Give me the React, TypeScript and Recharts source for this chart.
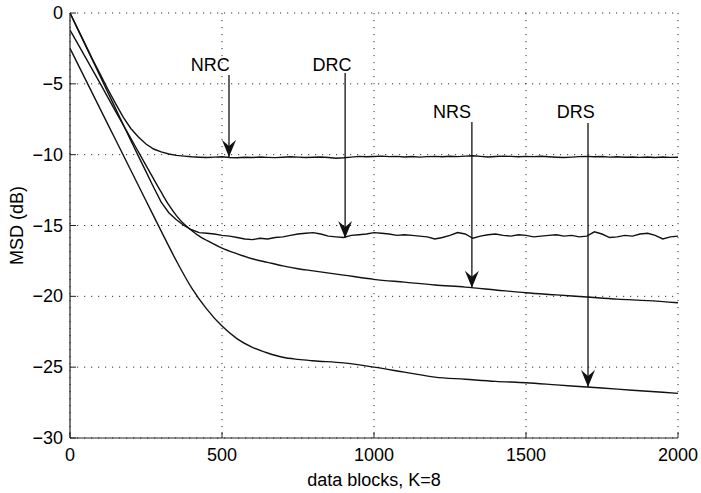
import React from 'react';
import { LineChart, Line, XAxis, YAxis, CartesianGrid, ReferenceLine, ReferenceDot, Label } from 'recharts';

const xTicks = [0, 500, 1000, 1500, 2000];
const yTicks = [-30, -25, -20, -15, -10, -5, 0];

const fineBlocks = [
  0, 25, 50, 75, 100, 125, 150, 175, 200, 225, 250, 275, 300, 325, 350, 375, 400,
  425, 450, 475, 500, 525, 550, 575, 600, 625, 650, 675, 700, 725, 750, 775, 800,
  825, 850, 875, 900, 925, 950, 975, 1000, 1025, 1050, 1075, 1100, 1125, 1150, 1175, 1200,
  1225, 1250, 1275, 1300, 1325, 1350, 1375, 1400, 1425, 1450, 1475, 1500, 1525, 1550, 1575, 1600,
  1625, 1650, 1675, 1700, 1725, 1750, 1775, 1800, 1825, 1850, 1875, 1900, 1925, 1950, 1975, 2000,
];

const nrcMsd = [
  0, -1.1, -2.2, -3.3, -4.35, -5.4, -6.4, -7.35, -8.15, -8.75, -9.25, -9.6, -9.8, -9.95, -10.05, -10.1, -10.15,
  -10.18, -10.2, -10.17, -10.15, -10.2, -10.22, -10.18, -10.2, -10.16, -10.19, -10.21, -10.18, -10.15, -10.17, -10.2, -10.18,
  -10.16, -10.2, -10.25, -10.22, -10.17, -10.12, -10.15, -10.13, -10.1, -10.14, -10.12, -10.16, -10.13, -10.17, -10.14, -10.12,
  -10.15, -10.11, -10.14, -10.1, -10.08, -10.12, -10.16, -10.13, -10.1, -10.12, -10.15, -10.12, -10.14, -10.11, -10.15, -10.18,
  -10.2, -10.17, -10.14, -10.12, -10.15, -10.13, -10.17, -10.15, -10.18, -10.16, -10.19, -10.17, -10.2, -10.17, -10.19, -10.18,
];

const drcMsd = [
  0, -1.12, -2.25, -3.37, -4.5, -5.62, -6.75, -7.87, -9.0, -10.1, -11.2, -12.3, -13.35, -14.1, -14.6, -15.0, -15.3,
  -15.5, -15.55, -15.6, -15.7, -15.75, -15.85, -15.95, -16.0, -15.9, -15.95, -15.85, -15.8, -15.7, -15.6, -15.55, -15.5,
  -15.6, -15.75, -15.8, -15.85, -15.7, -15.65, -15.6, -15.5, -15.55, -15.6, -15.7, -15.65, -15.7, -15.75, -15.8, -15.95,
  -15.85, -15.7, -15.5, -15.6, -15.9, -15.75, -15.65, -15.6, -15.7, -15.75, -15.65, -15.7, -15.8, -15.75, -15.7, -15.65,
  -15.75, -15.7, -15.8, -15.75, -15.45, -15.6, -15.85, -15.8, -15.7, -15.75, -15.6, -15.55, -15.7, -15.95, -15.8, -15.75,
];

const nrsBlocks = [
  0, 50, 100, 150, 200, 250, 300, 325, 350, 375, 400, 425, 450, 500, 550, 600, 650, 700, 750, 800,
  900, 1000, 1100, 1200, 1300, 1400, 1500, 1600, 1700, 1800, 1900, 2000,
];
const nrsMsd = [
  -1.2, -3.1, -5.0, -6.95, -8.85, -10.75, -12.65, -13.55, -14.3, -14.9, -15.35, -15.75, -16.05, -16.6, -17.0, -17.35, -17.6, -17.85, -18.05, -18.2,
  -18.5, -18.8, -19.0, -19.2, -19.35, -19.55, -19.75, -19.9, -20.05, -20.2, -20.3, -20.45,
];

const drsBlocks = [
  0, 50, 100, 150, 200, 250, 300, 350, 400, 450, 500, 550, 600, 650, 700, 750, 800,
  900, 1000, 1100, 1200, 1300, 1400, 1500, 1600, 1700, 1800, 1900, 2000,
];
const drsMsd = [
  -2.5, -4.65, -6.8, -8.95, -11.1, -13.25, -15.4, -17.5, -19.4, -20.9, -22.1, -23.0, -23.6, -24.0, -24.3, -24.45, -24.55,
  -24.7, -25.0, -25.35, -25.7, -25.85, -26.0, -26.1, -26.25, -26.4, -26.55, -26.7, -26.85,
];

const annLabels = ['NRC', 'DRC', 'NRS', 'DRS'];
const annTextBlock = [461, 862, 1257, 1664];
const annTextMsd = [-3.67, -3.67, -6.99, -6.99];
const annArrowBlock = [523, 905, 1322, 1704];
const annArrowTop = [-4.38, -4.23, -7.69, -7.76];
const annArrowTip = [-10.16, -15.88, -19.4, -26.4];

const nrcData = fineBlocks.map((b, i) => ({ block: b, msd: nrcMsd[i] }));
const drcData = fineBlocks.map((b, i) => ({ block: b, msd: drcMsd[i] }));
const nrsData = nrsBlocks.map((b, i) => ({ block: b, msd: nrsMsd[i] }));
const drsData = drsBlocks.map((b, i) => ({ block: b, msd: drsMsd[i] }));

const FONT = '"Liberation Sans", Arial, Helvetica, sans-serif';
const INK = '#111';
const FRAME = '#222';

const fmt = (v: number) => (v < 0 ? '\u2212' + Math.abs(v) : String(v));

const XTick = (p: any) => (
  <g>
    <line x1={p.x} y1={p.y} x2={p.x} y2={p.y - 6} stroke={FRAME} strokeWidth={1} />
    <text x={p.x} y={p.y + 17} textAnchor="middle" dominantBaseline="central" fontSize={18} fontFamily={FONT} fill="#000">
      {fmt(p.payload.value)}
    </text>
  </g>
);
const YTick = (p: any) => (
  <g>
    <line x1={p.x} y1={p.y} x2={p.x + 6} y2={p.y} stroke={FRAME} strokeWidth={1} />
    <text x={p.x - 7} y={p.y} textAnchor="end" dominantBaseline="central" fontSize={18} fontFamily={FONT} fill="#000">
      {fmt(p.payload.value)}
    </text>
  </g>
);
const TopTick = (p: any) => <line x1={p.x} y1={p.y} x2={p.x} y2={p.y + 6} stroke={FRAME} strokeWidth={1} />;
const RightTick = (p: any) => <line x1={p.x} y1={p.y} x2={p.x - 6} y2={p.y} stroke={FRAME} strokeWidth={1} />;

const XLabel = (p: any) => {
  const vb = p.viewBox;
  return (
    <text x={vb.x + vb.width / 2} y={vb.y + 42} textAnchor="middle" dominantBaseline="central" fontSize={18} fontFamily={FONT} fill="#000">
      data blocks, K=8
    </text>
  );
};
const YLabel = (p: any) => {
  const vb = p.viewBox;
  const cx = vb.x + 17;
  const cy = vb.y + vb.height / 2;
  return (
    <text x={cx} y={cy} transform={`rotate(-90, ${cx}, ${cy})`} textAnchor="middle" dominantBaseline="central" fontSize={18} fontFamily={FONT} fill="#000">
      MSD (dB)
    </text>
  );
};

const ArrowHead = (p: any) => {
  const { cx, cy } = p;
  return <path d={`M${cx},${cy} L${cx - 7},${cy - 17} L${cx},${cy - 11} L${cx + 7},${cy - 17} Z`} fill={INK} />;
};

const makeTextShape = (label: string) => (p: any) => (
  <text x={p.cx} y={p.cy} textAnchor="middle" dominantBaseline="central" fontSize={18} fontFamily={FONT} fill="#000">
    {label}
  </text>
);

export default function App() {
  return (
    <div style={{ position: 'absolute', left: 0, top: 0, background: '#fff' }}>
      <LineChart width={701} height={493} margin={{ top: 13, right: 23, bottom: 0, left: 0 }}>
        <CartesianGrid stroke="#333" strokeWidth={1} strokeDasharray="1.2 5.8" />
        <XAxis
          dataKey="block"
          type="number"
          domain={[0, 2000]}
          ticks={xTicks}
          interval={0}
          allowDataOverflow
          height={55}
          tickSize={0}
          tickMargin={0}
          tickLine={false}
          axisLine={{ stroke: FRAME, strokeWidth: 1.2 }}
          tick={<XTick />}
        >
          <Label content={<XLabel />} />
        </XAxis>
        <XAxis
          xAxisId="top"
          orientation="top"
          dataKey="block"
          type="number"
          domain={[0, 2000]}
          ticks={xTicks}
          interval={0}
          allowDataOverflow
          height={0}
          tickSize={0}
          tickMargin={0}
          tickLine={false}
          axisLine={{ stroke: FRAME, strokeWidth: 1.2 }}
          tick={<TopTick />}
        />
        <YAxis
          type="number"
          domain={[-30, 0]}
          ticks={yTicks}
          interval={0}
          allowDataOverflow
          width={70}
          tickSize={0}
          tickMargin={0}
          tickLine={false}
          axisLine={{ stroke: FRAME, strokeWidth: 1.2 }}
          tick={<YTick />}
        >
          <Label content={<YLabel />} />
        </YAxis>
        <YAxis
          yAxisId="right"
          orientation="right"
          type="number"
          domain={[-30, 0]}
          ticks={yTicks}
          interval={0}
          allowDataOverflow
          width={0}
          tickSize={0}
          tickMargin={0}
          tickLine={false}
          axisLine={{ stroke: FRAME, strokeWidth: 1.2 }}
          tick={<RightTick />}
        />
        <Line data={nrcData} dataKey="msd" type="linear" stroke={INK} strokeWidth={1.4} dot={false} isAnimationActive={false} />
        <Line data={drcData} dataKey="msd" type="linear" stroke={INK} strokeWidth={1.4} dot={false} isAnimationActive={false} />
        <Line data={nrsData} dataKey="msd" type="monotone" stroke={INK} strokeWidth={1.4} dot={false} isAnimationActive={false} />
        <Line data={drsData} dataKey="msd" type="monotone" stroke={INK} strokeWidth={1.4} dot={false} isAnimationActive={false} />
        {annLabels.map((lab, i) => (
          <ReferenceLine
            key={'s' + lab}
            segment={[
              { x: annArrowBlock[i], y: annArrowTop[i] },
              { x: annArrowBlock[i], y: annArrowTip[i] },
            ]}
            stroke={INK}
            strokeWidth={1.3}
          />
        ))}
        {annLabels.map((lab, i) => (
          <ReferenceDot key={'h' + lab} x={annArrowBlock[i]} y={annArrowTip[i]} r={0} shape={<ArrowHead />} />
        ))}
        {annLabels.map((lab, i) => (
          <ReferenceDot key={'t' + lab} x={annTextBlock[i]} y={annTextMsd[i]} r={0} shape={makeTextShape(lab)} />
        ))}
      </LineChart>
    </div>
  );
}
